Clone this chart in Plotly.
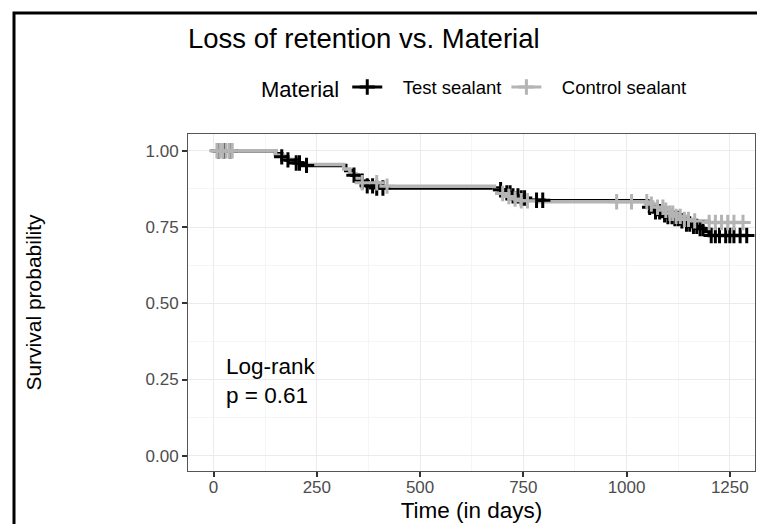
import plotly.graph_objects as go
import numpy as np

# ---- data ----
test_time = [0, 150, 165, 175, 200, 215, 320, 335, 350, 372, 395, 690, 705, 720, 740, 760, 800,
             1050, 1065, 1085, 1100, 1115, 1130, 1145, 1160, 1175, 1190, 1200]
test_surv = [1.0, 0.99, 0.98, 0.97, 0.96, 0.952, 0.935, 0.92, 0.90, 0.885, 0.878, 0.872, 0.862,
             0.852, 0.845, 0.838, 0.836, 0.815, 0.80, 0.79, 0.784, 0.778, 0.77, 0.76, 0.752, 0.745,
             0.735, 0.722]
test_end = 1291
test_censor = [12, 25, 40, 165, 180, 200, 208, 225, 340, 360, 372, 385, 395, 410,
               695, 710, 718, 725, 737, 745, 753, 782, 797,
               1056, 1070, 1080, 1092, 1100, 1110, 1117, 1125, 1134, 1145,
               1153, 1162, 1170, 1178, 1185, 1205, 1215, 1225, 1240, 1250, 1260, 1275, 1291]

control_time = [0, 150, 170, 190, 205, 315, 330, 345, 360, 400, 680, 695, 710, 725, 745, 790,
                1050, 1070, 1090, 1105, 1120, 1140, 1160, 1200]
control_surv = [1.0, 0.985, 0.972, 0.962, 0.955, 0.94, 0.925, 0.91, 0.895, 0.884, 0.872, 0.86,
                0.85, 0.842, 0.836, 0.833, 0.825, 0.815, 0.805, 0.795, 0.785, 0.775, 0.77, 0.765]
control_end = 1282
control_censor = [8, 15, 22, 30, 38, 45, 360, 395, 420, 700, 715, 730, 745, 760, 976, 1012, 1049,
                  1060, 1075, 1088, 1095, 1105, 1112, 1120, 1130, 1140, 1150, 1165, 1200, 1215,
                  1230, 1245, 1260, 1282]

x_ticks = [0, 250, 500, 750, 1000, 1250]
y_ticks = [0.0, 0.25, 0.5, 0.75, 1.0]
y_ticklabels = ["0.00", "0.25", "0.50", "0.75", "1.00"]

TEST_COLOR = "#000000"
CTRL_COLOR = "#b4b4b4"

W, H = 757, 524
# panel edges in window pixels (reference)
PX0, PX1, PY0, PY1 = 188, 755, 134, 471
L, R, T, B = PX0, W - PX1, PY0, H - PY1
PW, PH = W - L - R, H - T - B


def px_to_paper_x(px):
    return (px - L) / PW


def px_to_paper_y(py):
    return (H - B - py) / PH


def step_xy(times, surv, end):
    return list(times) + [end], list(surv) + [surv[-1]]


def surv_at(times, surv, t):
    idx = np.searchsorted(np.array(times), t, side="right") - 1
    return surv[max(idx, 0)]


groups = [
    ("Test sealant", test_time, test_surv, test_end, test_censor, TEST_COLOR),
    ("Control sealant", control_time, control_surv, control_end, control_censor, CTRL_COLOR),
]

NB = "\u00a0"
fig = go.Figure()
# step lines first
for name, times, surv, end, cens, color in groups:
    xs, ys = step_xy(times, surv, end)
    fig.add_trace(go.Scatter(
        x=xs, y=ys, mode="lines", line=dict(color=color, width=3.5, shape="hv"),
        name=name, legendgroup=name, showlegend=False, hoverinfo="skip"))
# censor marks on top
for name, times, surv, end, cens, color in groups:
    cy = [surv_at(times, surv, t) for t in cens]
    fig.add_trace(go.Scatter(
        x=cens, y=cy, mode="markers", name=name, legendgroup=name,
        marker=dict(symbol="cross-thin", size=11, color=color,
                    line=dict(color=color, width=3)),
        showlegend=False))
# legend entries (line + cross)
for name, times, surv, end, cens, color in groups:
    fig.add_trace(go.Scatter(
        x=[None], y=[None], mode="lines+markers", name=NB * 3 + name, legendgroup=name,
        line=dict(color=color, width=3),
        marker=dict(symbol="cross-thin", size=11, color=color,
                    line=dict(color=color, width=3)),
        showlegend=True))

fig.update_layout(
    width=W, height=H,
    margin=dict(l=L, r=R, t=T, b=B),
    paper_bgcolor="white", plot_bgcolor="white",
    font=dict(family="Liberation Sans, Arial, sans-serif", color="#000000"),
    title=dict(text="Loss of retention vs. Material", x=188 / W, xanchor="left",
               xref="container", y=1 - 38 / H, yanchor="middle", yref="container",
               font=dict(size=27.5, color="#000000")),
    legend=dict(orientation="h", x=259 / W, xanchor="left", xref="container",
                y=1 - 88 / H, yanchor="middle", yref="container",
                title=dict(text="Material", font=dict(size=22, color="#000000")),
                font=dict(size=18.5, color="#000000"), itemwidth=30,
                bgcolor="rgba(0,0,0,0)"),
    showlegend=True,
)

fig.update_xaxes(
    range=[-62, 1311], tickvals=x_ticks, ticktext=[str(v) for v in x_ticks],
    showgrid=True, gridcolor="#ebebeb", gridwidth=1.2,
    minor=dict(showgrid=True, gridcolor="#f5f5f5", gridwidth=0.8, dtick=125, tick0=0),
    zeroline=False, showline=True, linecolor="#555555", linewidth=1, mirror=True,
    ticks="outside", ticklen=5, tickwidth=1.5, tickcolor="#333333",
    tickfont=dict(size=17, color="#4d4d4d"), ticklabelstandoff=-4,
    title=dict(text="Time (in days)", font=dict(size=22.5, color="#000000"), standoff=5),
)
fig.update_yaxes(
    range=[-0.05, 1.055], tickvals=y_ticks, ticktext=y_ticklabels,
    showgrid=True, gridcolor="#ebebeb", gridwidth=1.2,
    minor=dict(showgrid=True, gridcolor="#f5f5f5", gridwidth=0.8, dtick=0.125, tick0=0),
    zeroline=False, showline=True, linecolor="#555555", linewidth=1, mirror=True,
    ticks="outside", ticklen=5, tickwidth=1.5, tickcolor="#333333",
    tickfont=dict(size=17, color="#4d4d4d"),
    title=dict(text="Survival probability", font=dict(size=21, color="#000000"), standoff=98),
)

fig.add_annotation(text="Log-rank<br>p = 0.61", xref="paper", yref="paper",
                   x=px_to_paper_x(224), y=px_to_paper_y(381),
                   xanchor="left", yanchor="middle", align="left", showarrow=False,
                   font=dict(size=22.5, color="#000000"))

# outer figure frame (right and bottom sides lie outside the picture)
fig.add_shape(type="rect", xref="paper", yref="paper",
              x0=px_to_paper_x(14), x1=2.0,
              y0=-1.0, y1=px_to_paper_y(13),
              line=dict(color="#000000", width=3), fillcolor="rgba(0,0,0,0)", layer="above")

fig.write_html(
    "out.html",
    config={"displayModeBar": False},
    post_script="document.body.style.margin='0px';document.body.style.overflow='hidden';",
)
